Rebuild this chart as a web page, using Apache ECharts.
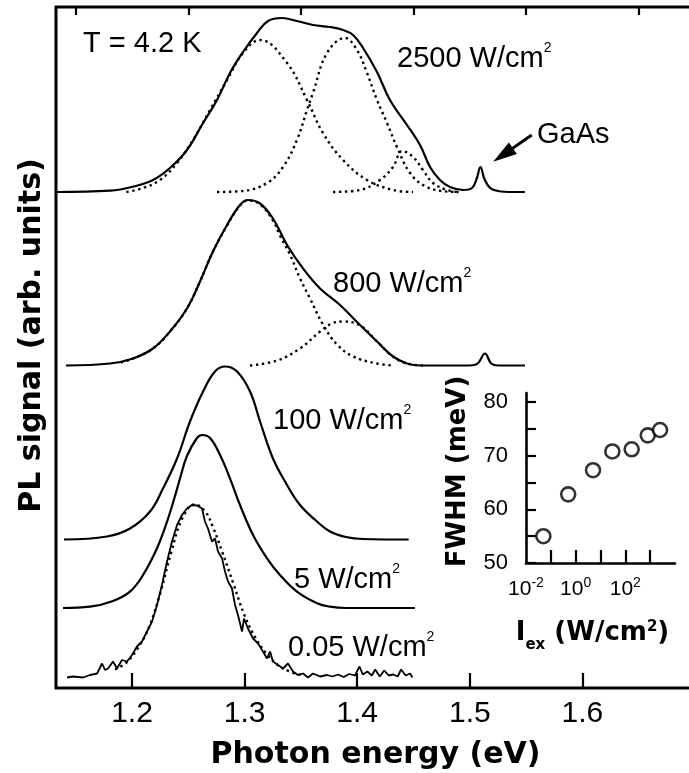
<!DOCTYPE html>
<html><head><meta charset="utf-8">
<script src="https://cdn.jsdelivr.net/npm/echarts@6/dist/echarts.min.js"></script>
<style>html,body{margin:0;padding:0;background:#fff}#c{width:689px;height:773px}</style>
</head><body><div id="c"></div>
<script>
// ---------- data ----------
const energyMajorTicks = [1.2, 1.3, 1.4, 1.5, 1.6];
const energyMinorTicks = [1.15, 1.25, 1.35, 1.45, 1.55, 1.65];
// vertical offsets of the stacked spectra (arb. units)
const baselineOffsets = { p005: 1.05, p5: 8.0, p100: 14.85, p800: 32.25, p2500: 49.6 };

// 0.05 W/cm2 (noisy measurement + fit)
const pl005 = [[1.1423,0],[1.1476,0.1],[1.1565,0],[1.1627,0.25],[1.169,0.4],[1.1734,1.4],[1.176,0.75],[1.1787,0.9],[1.1831,1.6],[1.1867,0.9],[1.1911,1.75],[1.1956,1.6],[1.2,2.25],[1.2044,3.1],[1.2089,3.6],[1.2133,4.6],[1.2178,5.6],[1.2222,7.25],[1.2266,9.25],[1.2311,11.6],[1.2355,13.6],[1.24,15.25],[1.2444,16.25],[1.2488,16.9],[1.2533,17.25],[1.2577,17.2],[1.2622,16.9],[1.2648,15.6],[1.2675,14.9],[1.271,13.6],[1.2737,13.9],[1.2764,12.6],[1.28,11.9],[1.2826,10.6],[1.2853,9.6],[1.2888,8.9],[1.2915,7.25],[1.2941,6.25],[1.2977,4.6],[1.2995,5.9],[1.303,4.9],[1.3075,3.9],[1.3119,3.4],[1.3163,2.6],[1.3199,1.9],[1.3226,2.6],[1.3252,1.6],[1.3297,1.25],[1.3341,0.9],[1.3385,1.4],[1.343,0.6],[1.3474,0.25],[1.3519,0.4],[1.3563,0],[1.3607,0.4],[1.367,0.1],[1.3732,0.25],[1.378,0.1],[1.383,0.3],[1.388,0.05],[1.393,0.35],[1.398,0.2],[1.402,1.1],[1.405,0.3],[1.409,0.6],[1.413,0.2],[1.416,0.8],[1.42,0.1],[1.424,0.7],[1.428,0.2],[1.432,0.3],[1.436,0.1],[1.439,0.8],[1.443,0.2],[1.447,0.4],[1.449,0]];
const fit005 = [[1.185,0.8],[1.195,1.5],[1.205,2.9],[1.215,5.0],[1.225,8.4],[1.235,12.6],[1.245,16.0],[1.2555,17.3],[1.265,16.6],[1.272,15.0],[1.28,12.6],[1.29,9.4],[1.3,6.2],[1.31,3.9],[1.32,2.3],[1.33,1.2],[1.34,0.6],[1.35,0.25]];

// 5 W/cm2
const pl5 = [[1.1387,0],[1.1627,0.13],[1.1831,0.7],[1.1982,1.63],[1.2098,3.3],[1.2222,5.97],[1.2311,8.63],[1.2382,11.2],[1.243,13.1],[1.2488,15.2],[1.2577,17.0],[1.2622,17.3],[1.2693,17.0],[1.2782,15.3],[1.287,12.97],[1.2959,10.3],[1.3075,7.3],[1.3199,4.97],[1.3314,3.3],[1.3465,1.63],[1.3643,0.47],[1.3758,0.13],[1.39,0],[1.4513,0]];

// 100 W/cm2
const pl100 = [[1.1396,0],[1.1778,0.3],[1.1982,1.1],[1.216,2.8],[1.2275,5.1],[1.24,8.1],[1.2515,11.8],[1.2631,14.8],[1.2737,16.8],[1.2826,17.3],[1.2933,16.8],[1.3048,14.8],[1.3137,11.8],[1.3252,8.1],[1.3377,5.45],[1.3492,3.45],[1.3643,1.8],[1.3758,0.8],[1.39,0.25],[1.405,0.05],[1.4457,0]];

// 800 W/cm2 (measurement + two Gaussian components)
const pl800 = [[1.1414,0],[1.1805,0.2],[1.2009,0.7],[1.2186,1.7],[1.2337,3.4],[1.2488,5.7],[1.2604,8.4],[1.2719,11.4],[1.2844,14.05],[1.2959,16.05],[1.303,16.55],[1.3137,16.2],[1.3252,14.7],[1.3377,12.05],[1.3519,9.7],[1.367,7.7],[1.3847,6.05],[1.4025,4.05],[1.4176,2.4],[1.4318,0.9],[1.4442,0.2],[1.4558,0],[1.5,0],[1.507,0.2],[1.5135,1.2],[1.519,0.2],[1.525,0],[1.549,0]];
const fit800a = [[1.19,0.3],[1.2009,0.7],[1.2186,1.7],[1.2337,3.4],[1.2488,5.7],[1.2604,8.4],[1.2719,11.4],[1.2844,14.0],[1.2959,16.0],[1.303,16.5],[1.3137,16.1],[1.3252,14.5],[1.3314,13.0],[1.3403,11.1],[1.3492,8.7],[1.3581,6.7],[1.3696,4.1],[1.3821,2.1],[1.3963,0.9],[1.4176,0.2],[1.4318,0]];
const fit800b = [[1.3048,0],[1.3288,0.5],[1.3492,1.7],[1.367,3.4],[1.3774,4.2],[1.3874,4.4],[1.4025,4.0],[1.4176,2.4],[1.4318,0.9],[1.4442,0.2],[1.46,0]];

// 2500 W/cm2 (measurement + three Gaussian components)
const pl2500 = [[1.1325,0],[1.1805,0.13],[1.2009,0.53],[1.2186,1.2],[1.2337,2.4],[1.2488,4.2],[1.2631,6.9],[1.2755,9.2],[1.287,11.9],[1.2986,14.0],[1.311,15.9],[1.3208,17.1],[1.3332,17.4],[1.3465,17.1],[1.3607,16.7],[1.3758,16.5],[1.3874,16.2],[1.3963,15.7],[1.4052,14.4],[1.4176,12.0],[1.4291,9.2],[1.4442,6.7],[1.4558,4.7],[1.4647,2.5],[1.4735,1.2],[1.4824,0.5],[1.494,0.2],[1.502,0.4],[1.506,1.3],[1.5095,2.5],[1.513,1.3],[1.518,0.4],[1.525,0.1],[1.5384,0],[1.549,0]];
const fit2500a = [[1.195,0],[1.2098,0.4],[1.2249,1.2],[1.24,2.9],[1.2542,5.2],[1.2693,8.2],[1.2844,11.2],[1.2986,13.9],[1.3137,15.2],[1.3377,12.9],[1.3554,9.2],[1.3696,5.9],[1.3874,3.2],[1.4087,1.2],[1.4318,0.2],[1.4496,0]];
const fit2500b = [[1.2755,0],[1.2986,0.1],[1.3199,0.9],[1.3341,2.5],[1.3465,5.2],[1.3554,8.2],[1.3607,9.9],[1.3732,13.9],[1.3892,15.4],[1.3998,14.2],[1.4087,11.9],[1.4176,9.2],[1.4265,6.9],[1.4353,4.5],[1.4469,1.9],[1.46,0.6],[1.475,0.1],[1.49,0]];
const fit2500c = [[1.3785,0],[1.4025,0.2],[1.4202,1.2],[1.4318,2.5],[1.44,4.1],[1.4496,3.5],[1.4584,2.2],[1.4673,0.9],[1.4797,0.2],[1.49,0]];

// GaAs arrow (data coordinates: start, end)
const gaasArrow = [[1.555, 55.3], [1.5295, 53.3]];

// inset: FWHM versus excitation density
const fwhmPower = [0.05, 0.5, 5, 30, 180, 800, 2500];
const fwhmValues = [55.0, 62.8, 67.3, 70.8, 71.2, 73.8, 74.8];
const fwhmTicks = [50, 55, 60, 65, 70, 75, 80];
const fwhmLabels = [50, 60, 70, 80];
const powerTicks = [0.1, 1, 10, 100, 1000];
const powerLabels = [0.01, 1, 100];

// ---------- chart ----------
const REG = 'Liberation Sans';
const BOLD = 'DejaVu Sans';
const shift = (arr, off) => arr.map(p => [p[0], p[1] + off]);

function solid(name, data, off, width) {
  return { name, type: 'line', xAxisIndex: 0, yAxisIndex: 0, data: shift(data, off),
    showSymbol: false, smooth: width ? false : 0.4, silent: true, z: 3,
    lineStyle: { color: '#000', width: width || 2.2 } };
}
function dotted(name, data, off) {
  return { name, type: 'line', xAxisIndex: 0, yAxisIndex: 0, data: shift(data, off),
    showSymbol: false, smooth: 0.4, silent: true, z: 2,
    lineStyle: { color: '#000', width: 2.4, type: [2.4, 3.6] } };
}

const series = [
  solid('0.05', pl005, baselineOffsets.p005, 1.8),
  dotted('0.05 fit', fit005, baselineOffsets.p005),
  solid('5', pl5, baselineOffsets.p5),
  solid('100', pl100, baselineOffsets.p100),
  solid('800', pl800, baselineOffsets.p800),
  dotted('800 fit 1', fit800a, baselineOffsets.p800),
  dotted('800 fit 2', fit800b, baselineOffsets.p800),
  Object.assign(solid('2500', pl2500, baselineOffsets.p2500), {
    markLine: { silent: true, animation: false, symbol: ['none', 'triangle'], symbolSize: [14, 24],
      label: { show: false }, lineStyle: { color: '#000', width: 2.8, type: 'solid' },
      data: [[{ coord: gaasArrow[0] }, { coord: gaasArrow[1] }]] }
  }),
  dotted('2500 fit 1', fit2500a, baselineOffsets.p2500),
  dotted('2500 fit 2', fit2500b, baselineOffsets.p2500),
  dotted('2500 fit 3', fit2500c, baselineOffsets.p2500),
  { name: 'FWHM', type: 'scatter', xAxisIndex: 2, yAxisIndex: 1, silent: true,
    data: fwhmPower.map((p, i) => [p, fwhmValues[i]]),
    symbol: 'circle', symbolSize: 14,
    itemStyle: { color: '#fff', borderColor: '#000', borderWidth: 2.6 } }
];

const supRich = (size, fam, lh) => ({
  m: { fontSize: size, fontFamily: fam, color: '#000', lineHeight: lh },
  s: { fontSize: 14, fontFamily: fam, color: '#000', verticalAlign: 'top' }
});
function note(x, y, main, sup) {
  return { type: 'text', x, y, silent: true, z: 10,
    style: { text: sup ? `{m|${main}}{s|${sup}}` : `{m|${main}}`, rich: supRich(29, REG, 36),
      fill: '#000', align: 'left', verticalAlign: 'middle' } };
}

const option = {
  animation: false,
  backgroundColor: '#fff',
  grid: [
    { left: 56, right: -6, top: 7, bottom: 85, show: true, borderColor: '#000', borderWidth: 3,
      backgroundColor: 'transparent', containLabel: false, outerBoundsMode: 'none' },
    { left: 526, right: 14, top: 393, bottom: 210, containLabel: false, outerBoundsMode: 'none' }
  ],
  xAxis: [
    { type: 'value', gridIndex: 0, min: 1.1325, max: 1.7,
      axisLine: { show: false }, splitLine: { show: false },
      axisTick: { show: true, inside: true, length: 15, customValues: energyMajorTicks,
        lineStyle: { color: '#000', width: 2.2 } },
      axisLabel: { show: true, customValues: energyMajorTicks, margin: 11,
        formatter: v => v.toFixed(1), fontSize: 30, fontFamily: REG, color: '#000' },
      name: 'Photon energy (eV)', nameLocation: 'middle', nameGap: 52,
      nameTextStyle: { fontFamily: BOLD, fontWeight: 'bold', fontSize: 30, color: '#000' } },
    { type: 'value', gridIndex: 0, min: 1.1325, max: 1.7,
      axisLine: { show: false }, splitLine: { show: false }, axisLabel: { show: false },
      axisTick: { show: true, inside: true, length: 8, customValues: energyMinorTicks,
        lineStyle: { color: '#000', width: 2.2 } } },
    { type: 'log', logBase: 10, gridIndex: 1, min: 0.01, max: 10000,
      axisLine: { show: true, onZero: false, lineStyle: { color: '#000', width: 2.6 } },
      splitLine: { show: false }, minorTick: { show: false },
      axisTick: { show: true, inside: true, length: 13, customValues: powerTicks,
        lineStyle: { color: '#000', width: 2.2 } },
      axisLabel: { show: true, customValues: powerLabels, margin: 13,
        fontSize: 21, fontFamily: REG, color: '#000',
        formatter: v => `{b|10}{s|${Math.round(Math.log10(v))}}`,
        rich: { b: { fontSize: 21, fontFamily: REG, color: '#000', lineHeight: 26 },
                s: { fontSize: 14, fontFamily: REG, color: '#000', verticalAlign: 'top' } } },
      name: '{b|I}{sub|ex}{b| (W/cm}{sup|2}{b|)}', nameLocation: 'middle', nameGap: 50,
      nameTextStyle: { padding: [0, 16, 0, 0], rich: {
        b: { fontSize: 26, fontFamily: BOLD, fontWeight: 'bold', color: '#000', lineHeight: 40 },
        sub: { fontSize: 15, fontFamily: BOLD, fontWeight: 'bold', color: '#000', verticalAlign: 'bottom' },
        sup: { fontSize: 15, fontFamily: BOLD, fontWeight: 'bold', color: '#000', verticalAlign: 'top', padding: [7, 0, 0, 0] } } } }
  ],
  yAxis: [
    { type: 'value', gridIndex: 0, min: 0, max: 68.1,
      axisLine: { show: false }, axisTick: { show: false }, axisLabel: { show: false },
      splitLine: { show: false },
      name: 'PL signal (arb. units)', nameLocation: 'middle', nameGap: 9,
      nameTextStyle: { fontFamily: BOLD, fontWeight: 'bold', fontSize: 30, color: '#000', padding: [0, 0, 0, 24] } },
    { type: 'value', gridIndex: 1, min: 50, max: 81.7,
      axisLine: { show: true, onZero: false, lineStyle: { color: '#000', width: 2.6 } },
      splitLine: { show: false },
      axisTick: { show: true, inside: true, length: 10, customValues: fwhmTicks,
        lineStyle: { color: '#000', width: 2.2 } },
      axisLabel: { show: true, customValues: fwhmLabels, margin: 18, fontSize: 22, fontFamily: REG, color: '#000' },
      name: 'FWHM (meV)', nameLocation: 'middle', nameGap: 55,
      nameTextStyle: { fontFamily: BOLD, fontWeight: 'bold', fontSize: 26, color: '#000', padding: [0, 0, 0, 13] } }
  ],
  graphic: [
    note(83, 44, 'T = 4.2 K'),
    note(397, 59, '2500 W/cm', '2'),
    note(537, 135, 'GaAs'),
    note(333, 284, '800 W/cm', '2'),
    note(273, 421, '100 W/cm', '2'),
    note(294, 580, '5 W/cm', '2'),
    note(288, 648, '0.05 W/cm', '2')
  ],
  series
};

const chart = echarts.init(document.getElementById('c'), null, { renderer: 'canvas' });
chart.setOption(option);
</script>
</body></html>
